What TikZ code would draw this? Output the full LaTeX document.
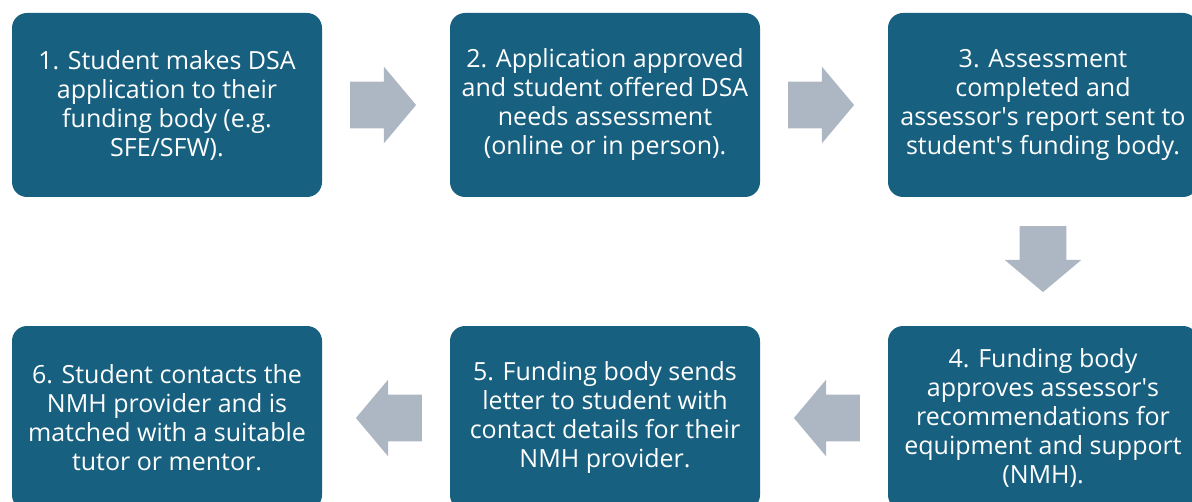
\documentclass[tikz,border=0pt]{standalone}
\usepackage{fontspec}
\setmainfont{Open Sans}
\usetikzlibrary{shapes.arrows,calc}
\definecolor{stageblue}{RGB}{24,96,128}
\definecolor{arrowgrey}{RGB}{172,183,195}
\begin{document}
\begin{tikzpicture}
        [x=0.5pt, y=-0.5pt,
        stage/.style={fill=stageblue, rounded corners=7.5pt, minimum width=155pt, minimum height=92pt, inner sep=0pt,
            text=white, align=center, font=\fontsize{12.5}{14.5}\selectfont},
        flow/.style={single arrow, fill=arrowgrey, inner xsep=0pt, inner ysep=11.5pt, minimum height=33pt,
            single arrow head extend=7.5pt, single arrow tip angle=100, anchor=tip},
        flowdown/.style={flow, shape border rotate=270, inner xsep=11.5pt, inner ysep=0pt},
        flowleft/.style={flow, shape border rotate=180}]

        \clip [use as bounding box] (0,0) rectangle (1192,502);

        % top row
        \node [stage] (S1) at (167,105) {1. Student makes DSA\\application to their\\funding body (e.g.\\SFE/SFW).};
        \node [stage] (S2) at (605,105) {2. Application approved\\and student offered DSA\\needs assessment\\(online or in person).};
        \node [stage] (S3) at (1043,105) {3. Assessment\\completed and\\assessor\textquotesingle s report sent to\\student\textquotesingle s funding body.};

        % bottom row
        \node [stage] (S4) at (1043,418) {4. Funding body\\approves assessor\textquotesingle s\\recommendations for\\equipment and support\\(NMH).};
        \node [stage] (S5) at (605,418) {5. Funding body sends\\letter to student with\\contact details for their\\NMH provider.};
        \node [stage] (S6) at (167,418) {6. Student contacts the\\NMH provider and is\\matched with a suitable\\tutor or mentor.};

        \node [flow] (A12) at ($(S2.west)+(-33,0)$) {};
        \node [flow] (A23) at ($(S3.west)+(-33,0)$) {};
        \node [flowdown] (A34) at ($(S4.north)+(0,-33)$) {};
        \node [flowleft] (A45) at ($(S5.east)+(33,0)$) {};
        \node [flowleft] (A56) at ($(S6.east)+(33,0)$) {};
    \end{tikzpicture}
\end{document}
